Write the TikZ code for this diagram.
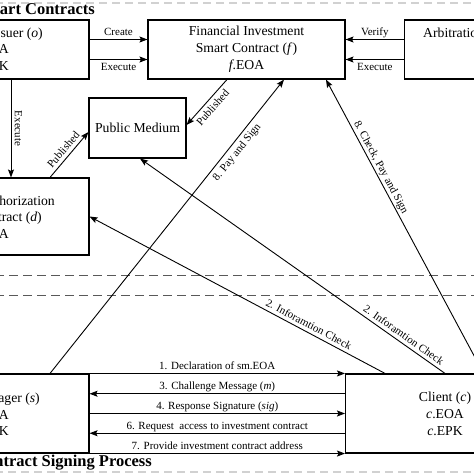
\documentclass[tikz,border=0pt]{standalone}
\usepackage{fontspec}
\setmainfont{Liberation Serif}
\usetikzlibrary{arrows.meta}

\begin{document}
\begin{tikzpicture}[x=1pt,y=1pt,>={Stealth[length=8pt,width=6pt,inset=1.5pt]},
  box/.style={draw,line width=1.1pt,inner sep=0pt,align=center,font=\fontsize{13.7}{17}\selectfont},
  txt/.style={inner sep=0pt,font=\fontsize{13.7}{17}\selectfont},
  title/.style={inner sep=0pt,font=\fontsize{16.5}{19}\selectfont\bfseries},
  lbl/.style={inner sep=3.5pt,text depth=0pt,font=\fontsize{11}{13}\selectfont},
  msg/.style={->,line width=0.9pt},
  sep/.style={dash pattern=on 9pt off 5pt,line width=1pt,black!65},
  rim/.style={dash pattern=on 8pt off 5pt,line width=2pt,black!18}]
  \useasboundingbox (0,0) rectangle (474,474);
  \clip (0,0) rectangle (474,474);

  % frames
  \draw[rim] (-5,471) -- (480,471);
  \draw[rim] (-5,2) -- (480,2);
  \draw[sep] (-5,198) -- (480,198);
  \draw[sep] (-5,178) -- (480,178);

  \node[title,anchor=base east] (toptitle) at (95,459) {Smart Contracts};
  \node[title,anchor=base east] (bottitle) at (152,7) {Contract Signing Process};

  % boxes
  \node[box,minimum width=178,minimum height=59] (iss) at (0,424.5) {};
  \node[box,minimum width=197,minimum height=59] (fin) at (246.5,424.5)
    {Financial Investment\\Smart Contract (\textit{f})\\\textit{f}.EOA};
  \node[box,minimum width=196,minimum height=59,anchor=west] (arb) at (404,424.5) {};
  \node[box,minimum width=97,minimum height=60] (pm) at (137.5,346) {Public Medium};
  \node[box,minimum width=178,minimum height=77] (auth) at (0,257.5) {};
  \node[box,minimum width=178,minimum height=79] (man) at (0,60.5) {};
  \node[box,minimum width=199,minimum height=79,anchor=west] (cli) at (345,60.5)
    {Client (\textit{c})\\\textit{c}.EOA\\\textit{c}.EPK};

  \node[txt,anchor=base east] (issname) at (43,436.5) {Issuer (\textit{o})};
  \node[txt,anchor=base east] (isseoa) at (9,420) {\textit{o}.EOA};
  \node[txt,anchor=base east] (issepk) at (9,403.5) {\textit{o}.EPK};
  \node[txt,anchor=base west] (arbname) at (423,436.5) {Arbitration};
  \node[txt,anchor=base east] (authname) at (55,268.5) {Authorization};
  \node[txt,anchor=base east] (authsc) at (42,252) {Contract (\textit{d})};
  \node[txt,anchor=base east] (autheoa) at (9,235) {\textit{d}.EOA};
  \node[txt,anchor=base east] (manname) at (40,71) {Manager (\textit{s})};
  \node[txt,anchor=base east] (maneoa) at (9,54) {\textit{s}.EOA};
  \node[txt,anchor=base east] (manepk) at (9,38) {\textit{s}.EPK};

  % smart contracts
  \draw[msg] ([yshift=10pt]iss.east) -- node[lbl,above] (create) {Create} ([yshift=10pt]fin.west);
  \draw[msg] ([yshift=-10pt]iss.east) -- node[lbl,below] (exeiss) {Execute} ([yshift=-10pt]fin.west);
  \draw[msg] ([yshift=10pt]arb.west) -- node[lbl,above] (verify) {Verify} ([yshift=10pt]fin.east);
  \draw[msg] ([yshift=-10pt]arb.west) -- node[lbl,below] (exearb) {Execute} ([yshift=-10pt]fin.east);
  \draw[msg] ([xshift=11pt]iss.south) -- node[lbl,sloped,above] (exeauth) {Execute} ([xshift=11pt]auth.north);
  \draw[msg] ([xshift=50pt]auth.north) -- node[lbl,sloped,above] (pubauth) {Published} ([yshift=-4pt]pm.west);
  \draw[msg] ([xshift=-19.5pt]fin.south) -- node[lbl,sloped,below] (pubfin) {Published} ([yshift=3pt]pm.east);

  % signing
  \draw[msg] ([xshift=50pt]man.north) -- node[lbl,sloped,below,pos=0.77] (pay) {8. Pay and Sign} ([xshift=37.5pt]fin.south);
  \draw[msg] ([xshift=38.5pt]cli.north) -- node[lbl,sloped,above,pos=0.69] (check) {8. Check, Pay and Sign} ([xshift=79.5pt]fin.south);
  \draw[msg] ([xshift=-60pt]cli.north) -- node[lbl,sloped,above,pos=0.27] (infoauth) {2. Inforamtion Check} (auth.east);
  \draw[msg] (cli.north) -- node[lbl,sloped,above,pos=0.15] (infopm) {2. Inforamtion Check} ([xshift=2.5pt]pm.south);

  \draw[msg] (man.north east) -- node[lbl,above] (m1) {1. Declaration of sm.EOA} (cli.north west);
  \draw[msg] ([yshift=19.75pt]cli.west) -- node[lbl,above] (m3) {3. Challenge Message (\textit{m})} ([yshift=19.75pt]man.east);
  \draw[msg] (man.east) -- node[lbl,above] (m4) {4. Response Signature (\textit{sig})} (cli.west);
  \draw[msg] ([yshift=-19.75pt]cli.west) -- node[lbl,above] (m6) {6. Request~~access to investment contract} ([yshift=-19.75pt]man.east);
  \draw[msg] (man.south east) -- node[lbl,above] (m7) {7. Provide investment contract address} (cli.south west);
\end{tikzpicture}
\end{document}
